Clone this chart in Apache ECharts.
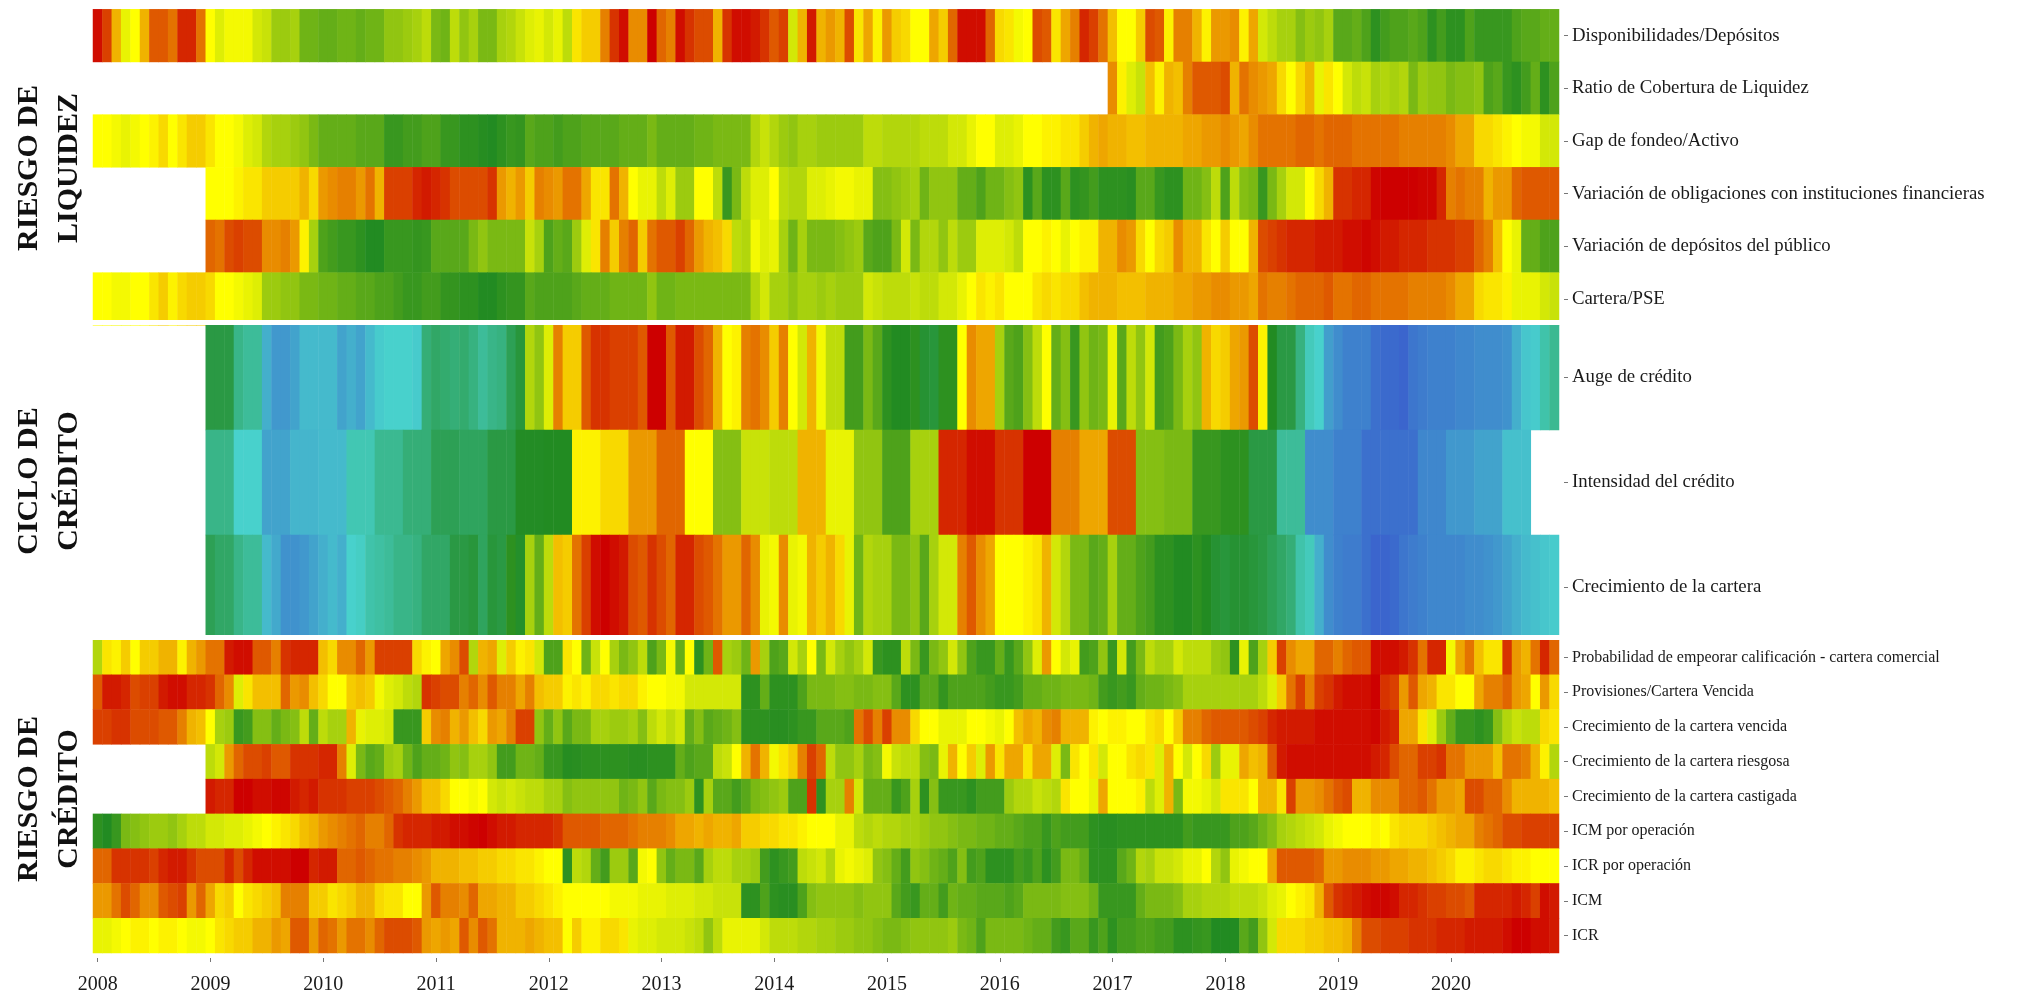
<!DOCTYPE html>
<html>
<head>
<meta charset="utf-8">
<style>html,body{margin:0;padding:0;background:#fff}#c{width:2043px;height:995px}</style>
<script src="https://cdn.jsdelivr.net/npm/echarts@6/dist/echarts.min.js"></script>
</head>
<body>
<div id="c"></div>
<script>
const years = [2008,2009,2010,2011,2012,2013,2014,2015,2016,2017,2018,2019,2020];
const none = null;
const labelsLiquidez = ["Disponibilidades/Depósitos","Ratio de Cobertura de Liquidez","Gap de fondeo/Activo","Variación de obligaciones con instituciones financieras","Variación de depósitos del público","Cartera/PSE"];
const labelsCiclo = ["Auge de crédito","Intensidad del crédito","Crecimiento de la cartera"];
const labelsCredito = ["Probabilidad de empeorar calificación - cartera comercial","Provisiones/Cartera Vencida","Crecimiento de la cartera vencida","Crecimiento de la cartera riesgosa","Crecimiento de la cartera castigada","ICM por operación","ICR por operación","ICM","ICR"];
const empty12 = [none,none,none,none,none,none,none,none,none,none,none,none];

// Score per month: 40 = highest risk (red) ... 0 = lowest (blue)
const disponibilidades = [
39.5,37.5,33,29,30,33,36.5,36.5,35.5,38.5,38.5,35.5,
30,28.5,29.5,29.5,29.5,28,27.5,25.5,25.5,26,23.5,23.5,
23,23,23.5,23.5,23,23.5,23.5,25,25,25.5,26,27,
24,23.5,27,25,26,24,24,26,26.5,27.5,28.5,29,
28,29,27,31,32,32,35,38,39.5,34.5,34.5,40,
36,35,39.5,38,37,37,33,38,39.5,39.5,39,38,
36.5,37.5,28,33,39,33,34,33,37,31,33.5,30.5,
34,32,31.5,30,30,33.5,32,36,39.5,39.5,39.5,36,
31.5,31,29.5,30,37,36.5,31,33.5,35,38.5,37.5,35.5,
32.5,30,30,32,37,36.5,30.5,35,35,33,30.5,34,
34,34.5,30.5,33.5,28,27,26,26,24.5,25.5,25,26,
22.5,22.5,23,22,20.5,21.5,22,22,22.5,22,20.5,21.5,
20.5,20.5,22,21,21,21,21,22,22.5,22.5,23,23];
const ratioCobertura = [
...empty12,...empty12,...empty12,...empty12,...empty12,...empty12,...empty12,...empty12,...empty12,
34.5,30.5,28.5,27.5,32.5,30.5,33,32.5,35,36.5,36.5,36.5,
37,33,35.5,34.5,34,33.5,31.5,30,31.5,33,29,31,
30,28,27,27.5,26,26.5,26,26.5,24,25.5,25,25,
24,24.5,24.5,25,22,22.5,21,20.5,21.5,23,20.5,22];
const gapFondeo = [
30,30,29.5,29,29.5,30,30.5,31.5,30,31,32,32,
31,30,30,29.5,28.5,28,26.5,26,26,25.5,25,24,
23,23,23,23,22.5,22.5,22.5,21,21,21.5,21.5,22,
22,21,21,20.5,20.5,20.2,20,20.5,21,20.8,22.5,22,
22,21.5,22,22,22.5,22.5,22.5,22.5,23,23,23,24,
23,23,23,23,23.5,23.5,24,24,24,24,26.5,27.5,
26.5,25.5,25,26,26,25.5,25.5,25.5,25.5,25.5,27,27,
26.5,26.5,26.5,26.5,27,27,27,28,28,29,30,30,
28.5,28.5,29,30,30,30.5,30.5,31,31,32,33,33.5,
33,33,32.5,32.5,33,33,33,33,33.5,33.5,34,34,
34.5,34,33.5,34.5,35.5,35.5,35.5,35.5,36,36,35.5,36,
36,36,35.5,35.5,35.5,35.5,35.5,35,35,35,35,35,
34.5,33.5,33.5,31.5,31.5,31,30.5,30,29.5,29.5,28,28];
const variacionObligaciones = [
...empty12,
30,30,30,30.5,31,31,32,32,32,32,33,31.5,
34,34.5,35,35,34,35.5,33,37.5,37.5,37.5,38.5,39,
38.5,38,37,37,37,37,38,34,33,34,32,35,
34.5,34,35.5,35.5,33.5,31,31,35.5,33,30,29,29,
27,28.5,25.5,25.5,30,30,27,21,24,27,28.5,28.5,
30,27,26.5,26.5,28.5,28.5,29,29.5,29.5,29,29,24.5,
24.5,25,25.5,26,23.5,25,25,25,23,23,22,23.5,
23.5,24.5,25,20.5,22.5,20.5,20.5,22.5,20.5,20.8,21.5,20.5,
20.5,20.5,20.3,22.5,22.5,21,20.5,20.5,23.5,23.5,24.5,27,
22,27,24.5,24,21,24,26,28,28,30,31.5,33,
38,38,38.5,38.5,39.8,40,40,40,40,39.8,39.8,38.5,
35,35.5,35,35,33,34,34,36,36.5,36.5,36.5,36.5];
const variacionDepositos = [
...empty12,
36,35.5,37,37.5,37,37,34.5,34.5,35,34,30.5,26,
22,21.5,21,21,20.5,20,20,21,21,21,20.8,21,
22.5,22.5,22.5,22.5,24,25,24,24,24,24,27.5,26,
22,23,22.5,25.5,28.5,31,35,32,35,36,32,35.5,
36.5,36.5,37.5,36,34,33,32.5,31.5,27,26.5,29.5,28.5,
29,26,23.5,26,24,24,24,24.5,25,25.5,22.5,22,
22,24,28,24,26.5,26.5,25,27,25.5,25.5,28.5,28.5,
28.5,28,27,30,30,30.5,30,29,30,30.5,30.5,33,
33,34.5,34,31.5,30,31.5,32,34.5,33,33,31,30,
32,30,30,33,37,37.5,38,38.5,38.5,38.5,39,39,
39,39.5,39.5,39.8,39.5,39,39,38.5,38.5,38.5,38,38,
38,37.5,37.5,36,35,32.5,30,29,23,23,22,22];
const carteraPSE = [
30,30,29.5,29.5,30,30,31,32,30.5,31.5,32,32,
31.5,30,30,29.5,29,28.5,25.5,25.5,25,25,24,24,
23.5,23.5,23,23,22.5,22.5,22,22,21.5,21,21,21.5,
21.5,20.8,20.8,20.5,20.5,20,20,20.5,20.8,20.8,22.5,22,
22,22,22,22.5,23,23,23,23.5,23.5,23.5,23.5,25,
23.5,23.5,24,24,24,24,24,24,24,24,26.5,28,
26,26,25,26,26,25.5,26,25.5,25.5,25.5,28,27.5,
27,27,27,27.5,27,27,28,28,29,30,31,30.5,
31,30,30,30,31,31.5,31,31.5,31.5,32.5,33,33,
33,32.5,32.5,32.5,33,33,33,33.5,33.5,34,34,34.5,
34.5,34,34,33.5,35.5,35,35,35.5,36,36,36,36.5,
35.5,35.5,36,36,35.5,35.5,35.5,35.5,35,35,35,35,
34.5,33.5,33.5,31.5,31,31,30.5,29,29,29,28,27.5];
const augeCredito = [
...empty12,
18,18,18,14,13,13,7,5,5,6,8,8,
8,8,6,7,6,8,9.5,10,10,10,9.5,15,
16,15.5,15,15.5,14.5,13,14,14.5,17,18.5,26.5,25,
28.5,35,32,32,36.5,38,38,37.5,37.5,37.5,36.5,40,
40,36.5,39,39,37,36,33,30,30.5,35,35.5,34.5,
32,35,30,28,33,29.5,27,27,21.5,21.5,24,22.5,
20.5,20,20,20.5,19,18.5,20.5,20.5,30,34.5,33.5,33.5,
26,22.5,22,24.5,27,30,23,24.5,21,25,23.5,24,
29,22.5,27,25,28,21.5,22,24,26,25,33,31.5,
32,33.5,34,37,30.5,20,18,18,14.5,11,10,5.5,
4,3,3,3,1.5,1,1,0.5,2,2.5,3,3,
3,3.5,3.5,4,4,4,4.5,7,9,9.5,12,13.5];
const intensidadCredito = [
...empty12,
14,14,14,10,10,10,6,6,6,7.5,7.5,7.5,
8,8,8,11.5,11.5,11.5,13.5,13.5,13.5,15,15,15,
17,17,17,16.5,16.5,16.5,18,18,18,19.8,19.8,19.8,
20,20,20,30.5,30.5,30.5,31.5,31.5,31.5,34,34,34,
36,36,36,30,30,30,24.5,24.5,24.5,27.5,27.5,27.5,
27,27,27,33,33,33,29,29,29,25,25,25,
22,22,22,26,26,26,38.5,38.5,38.5,39.5,39.5,39.5,
38,38,38,40,40,40,35,35,35,33.5,33.5,33.5,
37,37,37,24.5,24.5,24.5,24,24,24,21,21,21,
20.5,20.5,20.5,18,18,18,13,13,13,4,4,4,
3,3,3,1.5,1.5,1.5,1.5,1.5,1.5,3.5,3.5,3.5,
5,5,5,6,6,6,8.5,8.5,8.5,none,none,none];
const crecimientoCartera = [
...empty12,
17,16,16,14,13,13,8,6.5,4.5,4.5,5,6,
7,8,7,10,10.5,12,12.5,13,14,14,14.5,16,
16,16,18,18,18.5,16.5,18.5,18,20.5,19.5,26,23,
27,32.5,32,35.5,37.5,39.5,40,39.5,39,37,36.5,38,
37,36,38.5,38.5,37,36.5,35.5,34,34,36,34.5,29,
29.5,34.5,29,29.5,33,32,33,31.5,29,23.5,26.5,26,
26,24,24,25,22.5,26,28,28,35,36.5,34.5,33.5,
30,30,30,30.5,31,33,28,26.5,24,24,22.5,23,
26,23,23,22,21.5,20.5,20.5,20,20,20.5,20,19,
18.5,19,19,18.5,18,17,16,15,12,11,7,4,
3,2.5,2.5,1.5,0.5,0.5,1,2,2.5,3,3.5,3.5,
3.5,3.5,4,4,4.5,5,6,7,8,8.5,9,9.5];
const probabilidad = [
26.5,31,30.5,32,30,32,32,33,33,30.5,33,34,
35.5,35.5,39,39.5,39.5,36.5,36.5,35,38,38.5,38.5,38.5,
32.5,31.5,34.5,34.5,36,34,37.5,37.5,37.5,37.5,31.5,30.5,
30,33.5,34.5,37,26.5,33,33.5,28.5,32,30.5,31,28,
22,22,31,30,23.5,27.5,30,26,24,25,27,22,
24,29.5,23,30,20.5,23.5,36.5,26,25.5,23.5,34,26,
22,22.5,28,26,30,24,28,26,25,26,28,21,
20.5,20.5,27,24,21,24,25,28,25,22,21,21,
23,21,22.5,25,28.5,34,30,28,29,21.5,22,25,
21,28,21.5,24,27,26,26,28,27,27,27,25.5,
25,20.5,29,22,26,32,37.5,34.5,33.5,33.5,36,36,
35,36,36.5,36.5,39.5,39.5,39.5,39,38,35.5,38.5,38.5,
29.5,33.5,35.5,32.5,31,31,38,34,33,35.5,38.5,36];
const provisiones = [
36.5,39,39,38.5,37,37.5,37.5,39,39.5,39.5,38.5,38.5,
38,36,34.5,28.5,31,32.5,32.5,32.5,36,34,34.5,32.5,
31.5,30,30,32,32.5,32,29.5,28.5,28,27,26.5,38,
37.5,37,37,35,36,34.5,36.5,35,35,33.5,35,32.5,
32,32,30.5,31,30.5,31.5,31.5,31,31.5,31.5,30.5,30,
30,29.5,29.5,28,28,28,28,28,28,20.5,20.5,23,
20.5,20.5,20.5,22,24,24,24,24.5,24.5,24,24,24.5,
24.5,22.5,20.5,20.5,22.5,22.5,20.8,22,22,22,22,21.5,
21,21,21.5,23,23,23.5,23.5,24,24,24,23.5,21.5,
21,21.5,21,23,23.5,23.5,24,24.5,26,26,26,26,
26,26,26,26,27,28.5,32,35.5,37.5,35,37.5,38,
39,39.5,39.5,39.5,40,38,37.5,34,36.5,33.5,33,31,
31,30,30,33.5,35,35,36,34,33.5,30,34,31.5];
const carteraVencida = [
37.5,37.5,38,38,37,37,37,36.5,36.5,35,33,32.5,
30,26,25.5,21,21.5,24.5,24.5,23,24,24.5,27,23,
27,26,26,33,29,28.5,28.5,28,21,21,21,32,
34.5,35,33,34,32.5,31.5,34,33.5,35,37.5,37.5,25,
23,25,22.5,24,24,26,26,25.5,25.5,26,24.5,27,
28,27,28,23,24.5,22.5,23,23.5,24.5,20.5,20.5,20.5,
20.3,20.3,20.5,21,21,22.5,22.5,22.5,22,35.5,37,35,
37.5,34.5,34.5,31.5,30,30,29,29,29,30,30,29.5,
29,30,32.5,33.5,33,34.5,35,33,33,33,30.5,30,
30.5,30.5,30,30,31,31.5,30,32,35,35,36,36.5,
36.5,36.5,36.5,37,37.5,38.5,39,39,39,39,39.5,39.5,
39.5,39.5,39.5,39.5,39.8,39,38.5,33.5,33.5,31,28.5,25.5,
23,21,21,20.5,21,24.5,26.5,27.5,27,27,31.5,31];
const carteraRiesgosa = [
...empty12,
27,28,34,36,37,37,37.5,36.5,36.5,38,38,38,
38.5,38.5,35,28.5,24,22.5,23,25.5,26,23.5,22,23,
23,23.5,25,24.5,26,26,25,21.5,21.5,23.5,23.5,23,
21,21,20.2,20.3,20.5,20.5,20.5,20.5,20.5,20.3,20.3,20.5,
20.5,20.5,23,22,22.5,22.5,27,27.5,30,33,35.5,33,
29.5,31,32,35,37.5,36,27,25,25,26,24,24.5,
29.5,27.5,27,27,24.5,24,29,33,30,32,28.5,34,
31,33.5,33.5,31,33.5,33.5,28.5,24,31,30,31,28,
30,30,31,31.5,31,28.5,33,30,28,30,31.5,25.5,
29,29,33.5,32.5,33,36.5,39,39.5,39.5,39.5,39.5,39.5,
39.5,39.5,39.5,39.5,39,38.5,37,36,36,37.5,37.5,38,
35.5,35.5,34,34,34,32.5,35.5,35.5,35,33,30.5,26.5];
const carteraCastigada = [
...empty12,
39,38.5,38.5,40,40,39.5,39.5,39.8,39.8,39,38.5,39,
38,38,38,37.5,37.5,37.5,37,36.5,36,35,34,32.5,
32.5,31.5,30,30,29.5,30,28,27.5,28,27.5,27,27,
26,26,24.5,25,25,25,25,25,23.5,24,25,22.5,
24,24.5,24.5,25.5,20.5,26,22.5,22.5,21.5,22.5,24,24.5,
25,25.5,22,22,38,20.5,26,26,35,28,23,23,
23,21,22,26,20.5,24.5,21,21,21,20.5,21.5,21.5,
21.5,25.5,26.5,26.5,27.5,27,26.5,31,30,30,29,33.5,
30,30,30,30.5,27,28.5,33,24,29.5,29.5,29,28,
31,31,31,30,33,33,31,37.5,34,34,34.5,35.5,
36.5,37,33,33,34.5,34.5,34.5,36,36,36.5,35.5,34,
34,33.5,37,37,36,36,34.5,33,33,33,33,32.5];
const icmOperacion = [
20.5,20,21,24,24.5,25,25.5,25.5,25,26,27,27,
28,28,28.5,28.5,29,29.5,30,30.5,31,31.5,32.5,33,
34,34.5,35,35.5,36,35,35,36,38,38.5,38.5,38.5,
39,39,39.5,39.5,39.8,40,39.5,39,39,38.5,38.5,38.5,
38.5,38,36.5,36.5,36.5,36.5,36,36,36,35.5,35,35,
35,34.5,33.5,33.5,33,33.5,33,33,33.5,32,32,31.5,
31.5,31,31,30.5,30,30,30,29,29,27,26.5,27,
26.5,26.5,26,26,25.5,25,25,24.5,24,24,23.5,23.5,
23,23,22.5,22,22,21,22,21.5,21.5,21.5,20.5,20.3,
20.3,20.5,20.5,20.5,20.5,20.5,20.5,20.5,21.5,21,21,21,
21,22,22,22.5,23.5,24.5,26,26.5,27,27.5,28,29,
29.5,30,30,30,30.5,30,31,31.5,31.5,31.5,32,32.5,
33,33.5,33.5,35,35.5,36,37,37,37.5,37.5,37.5,37.5];
const icrOperacion = [
36,36,38,38,38,38,37.5,38.5,39,39,38,37,
37,37,38.5,37,38.5,39.5,39.5,39.5,39.5,40,40,38.5,
39,39,36,36,36.5,36,35.5,35.5,35,35,34.5,34,
33,33,33,32.5,32.5,32,32,31.5,31.5,31,31,30.5,
30,30,20.5,27,26.5,23,21.5,25.5,25.5,22.5,29.5,30,
25,23,24,24,22.5,26,27,27,26,26,25.5,21.5,
20.5,21,21.5,27,27.5,28,26.5,29,29.5,29,28.5,25,
24.5,23,21.5,25,24.5,23.5,23,22,24.5,21.5,22,20.5,
20.5,20.5,21.5,21,22,20.5,21.5,24,24,23,20.5,20.5,
20.5,22.5,23.5,26.5,26,27.5,27.5,28,29,29,30,26.5,
25,29,29.5,30,30,33.5,36.5,36.5,36.5,36.5,36,34,
34,34.5,34.5,34.5,34,34,33.5,33.5,33,33,32.5,32,
31.5,30.5,30.5,31,31.5,31.5,31,30.5,30.5,30,30,30];
const icm = [
34,34,35.5,37,36,34.5,34.5,36.5,37,37.5,34,36,
33.5,31.5,32,30,31,31.5,32,32.5,35,35,35,32,
32,31,31.5,32,33,33,31.5,31,31,30,30,34,
36.5,35,35,34.5,36,33.5,33.5,33,33,32,32,31.5,
31,30.5,30,30,30,30,30,29.5,29.5,29.5,29,29,
29,28.5,28.5,28.5,28,28,27.5,27.5,27.5,20.5,20.5,22,
20.5,20.3,20.3,22,24.5,25,25,25,25,24.5,25,25,
25,22.5,21.5,21,23,23,21.5,23.5,23,23,22.5,22.5,
22.5,22,22.5,24,24,24,24,24.5,24.5,24.5,23.5,21,
21,21,21,23,24,24,24,24.5,26,26,26.5,26.5,
26.5,27,27,27,27.5,28.5,29,30,30.5,31,33,36.5,
38,38.5,39,39.5,39.8,39.8,39.5,38.5,38.5,38,37.5,37.5,
37,37,36.5,38.5,38.5,38.5,38.5,39,38.5,37.5,39.5,39];
const icr = [
29,29,29.5,30,30.5,30.5,30,30.5,30.5,30,29.5,29.5,
30,31,31.5,32,32,33,33,34,33.5,36.5,36.5,34,
36,35.5,34,35.5,35.5,34.5,36,37,37,37,36.5,34,
33.5,34,33.5,36.5,34.5,36.5,35.5,33,33,33,33.5,33,
32.5,32.5,30,32,30.5,30.5,31.5,31.5,31,29,28.5,28.5,
28,28,28,27.5,27,25,27,29,29,29,29,28,
27,27,27,26.5,26.5,26,26,25.5,25.5,25,25,24.5,
24,24,24.5,25,25,25,25,25.5,24,23.5,22,24,
24,24,24,23.5,23,23,21.5,21,22.5,22.5,21,22,
20.5,21.5,21.5,22,22,21.5,21.5,20.5,20.5,20.8,21,20,
20,20,22.5,21.5,25,28,31.5,31.5,31.5,32,32,32.5,
32.5,33,35,37,37,37.5,37.5,37.5,38,38,38,38.5,
38.5,38.5,39,39,39,39,39.5,40,40,39.5,39.5,39];

const months = years.flatMap(y => [1,2,3,4,5,6,7,8,9,10,11,12].map(m => y + '-' + m));
const panels = [
  {labels: labelsLiquidez, rows: [disponibilidades,ratioCobertura,gapFondeo,variacionObligaciones,variacionDepositos,carteraPSE], top: 9.3, height: 316, font: 18.8},
  {labels: labelsCiclo, rows: [augeCredito,intensidadCredito,crecimientoCartera], top: 325, height: 315, font: 18.8},
  {labels: labelsCredito, rows: [probabilidad,provisiones,carteraVencida,carteraRiesgosa,carteraCastigada,icmOperacion,icrOperacion,icm,icr], top: 640, height: 314.5, font: 16}
];
const SERIF = '"Liberation Serif"';
const grid = [], xAxis = [], yAxis = [], series = [];
panels.forEach((p, i) => {
  grid.push({left: 93, width: 1466, top: p.top, height: p.height});
  xAxis.push({
    type: 'category', gridIndex: i, data: months, offset: 5, position: 'bottom',
    axisLine: {show: false},
    splitLine: {show: false},
    axisTick: {show: i === 2, alignWithLabel: true, length: 4, interval: idx => idx % 12 === 0, lineStyle: {color: '#777', width: 1}},
    axisLabel: {show: i === 2, interval: idx => idx % 12 === 0, hideOverlap: false, margin: 17, fontFamily: SERIF, fontSize: 20, color: '#1a1a1a', formatter: v => v.split('-')[0]}
  });
  yAxis.push({
    type: 'category', gridIndex: i, data: p.labels, inverse: true, position: 'right', offset: 5,
    axisLine: {show: false},
    splitLine: {show: false},
    axisTick: {show: true, alignWithLabel: true, length: 4, lineStyle: {color: '#777', width: 1}},
    axisLabel: {margin: 8, padding: [5, 0, 0, 0], fontFamily: SERIF, fontSize: p.font, color: '#1a1a1a', interval: 0}
  });
  const data = [];
  p.rows.forEach((row, r) => row.forEach((v, c) => { if (v !== null) data.push([c, r, v]); }));
  series.push({type: 'heatmap', xAxisIndex: i, yAxisIndex: i, data, progressive: 0, animation: false, emphasis: {disabled: true}, itemStyle: {borderWidth: 0}});
});
const sideTitles = [['RIESGO DE', 29, 168], ['LIQUIDEZ', 69, 168], ['CICLO DE', 29, 481], ['CRÉDITO', 69, 481], ['RIESGO DE', 29, 799], ['CRÉDITO', 69, 799]];
// white gaps between the three panels
const panelGaps = [[320, 5], [635, 5]];
const chart = echarts.init(document.getElementById('c'), null, {renderer: 'canvas'});
chart.setOption({
  animation: false,
  backgroundColor: '#fff',
  grid, xAxis, yAxis, series,
  visualMap: {type: 'continuous', show: false, min: 0, max: 40, seriesIndex: [0,1,2], inRange: {color: ['#3A5FCD','#48D1CC','#228B22','#FFFF00','#CD0000']}},
  graphic: [
    ...panelGaps.map(([y, h]) => ({type: 'rect', z: 100, silent: true, shape: {x: 90, y, width: 1472, height: h}, style: {fill: '#fff'}})),
    ...sideTitles.map(([text, x, y]) => ({
      type: 'text', x, y, rotation: Math.PI / 2, silent: true, z: 101,
      style: {text, fontFamily: SERIF, fontSize: 30, fontWeight: 'bold', fill: '#111', textAlign: 'center', textVerticalAlign: 'middle'}
    }))
  ]
});
</script>
</body>
</html>
